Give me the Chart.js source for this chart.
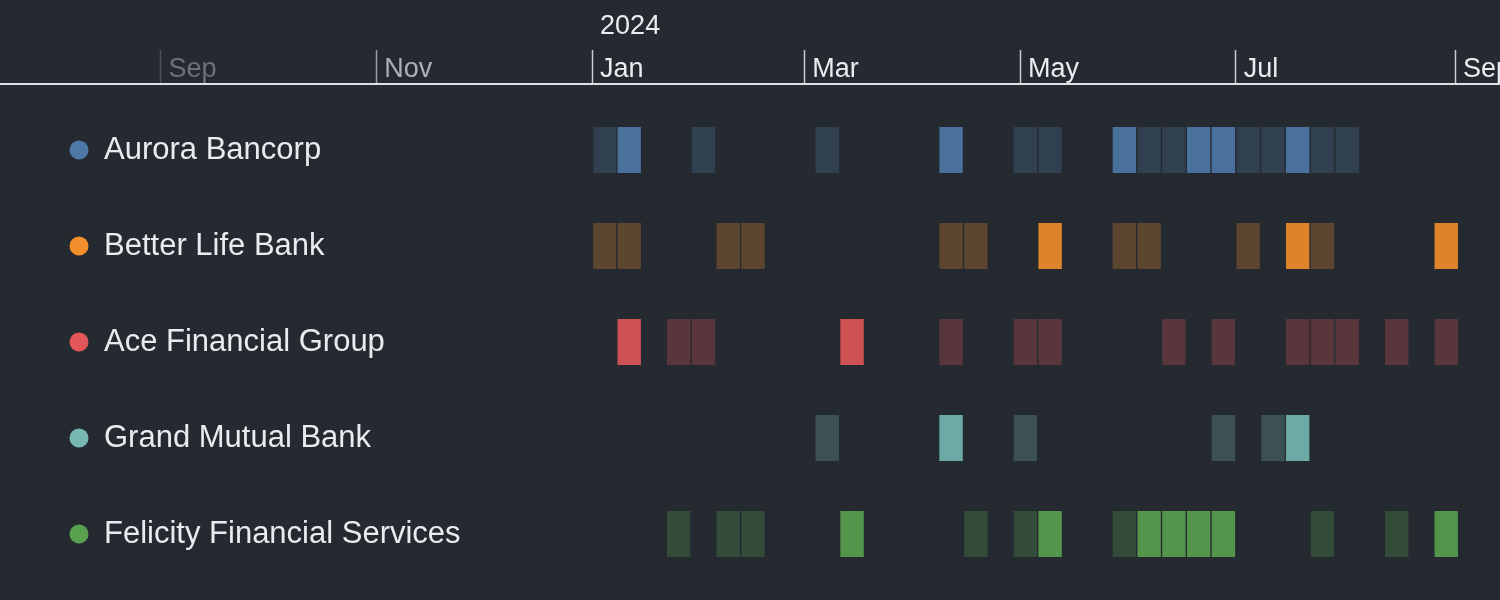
<!DOCTYPE html>
<html>
<head>
<meta charset="utf-8">
<script src="https://cdn.jsdelivr.net/npm/chart.js@4/dist/chart.umd.min.js"></script>
<style>
  html, body { margin: 0; padding: 0; background: #252a31; }
  #wrap { width: 1500px; height: 600px; position: relative; }
</style>
</head>
<body>
<div id="wrap"><canvas id="c"></canvas></div>
<script>
// ---- data ----
const bankNames = ['Aurora Bancorp', 'Better Life Bank', 'Ace Financial Group', 'Grand Mutual Bank', 'Felicity Financial Services'];

// week start dates with activity, and level (1 = low, 2 = high)
const auroraWeeks = ['2024-01-01','2024-01-08','2024-01-29','2024-03-04','2024-04-08','2024-04-29','2024-05-06','2024-05-27','2024-06-03','2024-06-10','2024-06-17','2024-06-24','2024-07-01','2024-07-08','2024-07-15','2024-07-22','2024-07-29'];
const auroraLevels = [1,2,1,1,2,1,1,2,1,1,2,2,1,1,2,1,1];

const betterWeeks = ['2024-01-01','2024-01-08','2024-02-05','2024-02-12','2024-04-08','2024-04-15','2024-05-06','2024-05-27','2024-06-03','2024-07-01','2024-07-15','2024-07-22','2024-08-26'];
const betterLevels = [1,1,1,1,1,1,2,1,1,1,2,1,2];

const aceWeeks = ['2024-01-08','2024-01-22','2024-01-29','2024-03-11','2024-04-08','2024-04-29','2024-05-06','2024-06-10','2024-06-24','2024-07-15','2024-07-22','2024-07-29','2024-08-12','2024-08-26'];
const aceLevels = [2,1,1,2,1,1,1,1,1,1,1,1,1,1];

const grandWeeks = ['2024-03-04','2024-04-08','2024-04-29','2024-06-24','2024-07-08','2024-07-15'];
const grandLevels = [1,2,1,1,1,2];

const felicityWeeks = ['2024-01-22','2024-02-05','2024-02-12','2024-03-11','2024-04-15','2024-04-29','2024-05-06','2024-05-27','2024-06-03','2024-06-10','2024-06-17','2024-06-24','2024-07-22','2024-08-12','2024-08-26'];
const felicityLevels = [1,1,1,2,1,1,2,1,2,2,2,2,1,1,2];

const tickDates = ['2023-09-01','2023-11-01','2024-01-01','2024-03-01','2024-05-01','2024-07-01','2024-09-01'];
const tickLabels = ['Sep','Nov',['2024','Jan'],'Mar','May','Jul','Sep'];

// ---- styles ----
const bankColors = [[78,121,167],[242,142,43],[225,87,89],[118,183,178],[89,161,79]];
const BG = '#252a31';
const FONT = "'Liberation Sans', Arial, Helvetica, sans-serif";

// ---- helpers ----
const DAY = 86400000;
const origin = Date.parse('2024-01-01');
const toDay = s => (Date.parse(s) - origin) / DAY;

const allWeeks = [auroraWeeks, betterWeeks, aceWeeks, grandWeeks, felicityWeeks];
const allLevels = [auroraLevels, betterLevels, aceLevels, grandLevels, felicityLevels];

const datasets = bankNames.map((name, b) => ({
  label: name,
  data: allWeeks[b].map((w, i) => ({ x: [toDay(w), toDay(w) + 7], y: b, level: allLevels[b][i] })),
  backgroundColor: ctx => {
    const c = bankColors[b];
    const lv = ctx.raw ? ctx.raw.level : 1;
    const a = lv === 2 ? 0.9 : 0.28;
    return `rgba(${c[0]},${c[1]},${c[2]},${a})`;
  },
  borderColor: BG,
  borderWidth: { left: 1, right: 1, top: 0, bottom: 0 },
  borderSkipped: false,
  grouped: false,
  barThickness: 46
}));

const tickValues = tickDates.map(toDay);
const labelColors = ['#6b7179', '#aab0b6'];
const tickMarkColors = ['#4b5159', '#9aa0a6'];

const rowLabels = {
  id: 'rowLabels',
  afterDatasetsDraw(chart) {
    const { ctx } = chart;
    const y = chart.scales.y;
    ctx.save();
    bankNames.forEach((name, i) => {
      const py = y.getPixelForValue(i);
      const c = bankColors[i];
      ctx.beginPath();
      ctx.arc(79, py, 9.5, 0, Math.PI * 2);
      ctx.fillStyle = `rgb(${c[0]},${c[1]},${c[2]})`;
      ctx.fill();
      ctx.font = `31px ${FONT}`;
      ctx.fillStyle = '#e8ecf0';
      ctx.textAlign = 'left';
      ctx.textBaseline = 'middle';
      ctx.fillText(name, 104, py);
    });
    ctx.restore();
  }
};

new Chart(document.getElementById('c'), {
  type: 'bar',
  data: { datasets },
  options: {
    indexAxis: 'y',
    responsive: true,
    maintainAspectRatio: false,
    animation: false,
    layout: { padding: 0 },
    plugins: { legend: { display: false }, tooltip: { enabled: false } },
    scales: {
      x: {
        type: 'linear',
        position: 'top',
        offset: false,
        min: -167.4,
        max: 256.7,
        afterBuildTicks: s => { s.ticks = tickValues.map(v => ({ value: v })); },
        afterFit: s => { s.height = 84; },
        border: { display: true, color: '#dfe3e7', width: 2 },
        grid: {
          offset: false,
          drawOnChartArea: false,
          drawTicks: true,
          tickLength: 34,
          tickWidth: 1.5,
          tickColor: ctx => tickMarkColors[ctx.index] || '#c8cdd2'
        },
        ticks: {
          autoSkip: false,
          maxRotation: 0,
          minRotation: 0,
          align: 'start',
          labelOffset: 8,
          padding: -41,
          color: ctx => labelColors[ctx.index] || '#e9edf1',
          font: { family: FONT, size: 27, lineHeight: '43px' },
          callback: (v, i) => tickLabels[i]
        }
      },
      y: {
        type: 'linear',
        display: false,
        offset: false,
        grid: { offset: false },
        reverse: true,
        min: -0.6875,
        max: 4.6875
      }
    }
  },
  plugins: [rowLabels]
});
</script>
</body>
</html>
